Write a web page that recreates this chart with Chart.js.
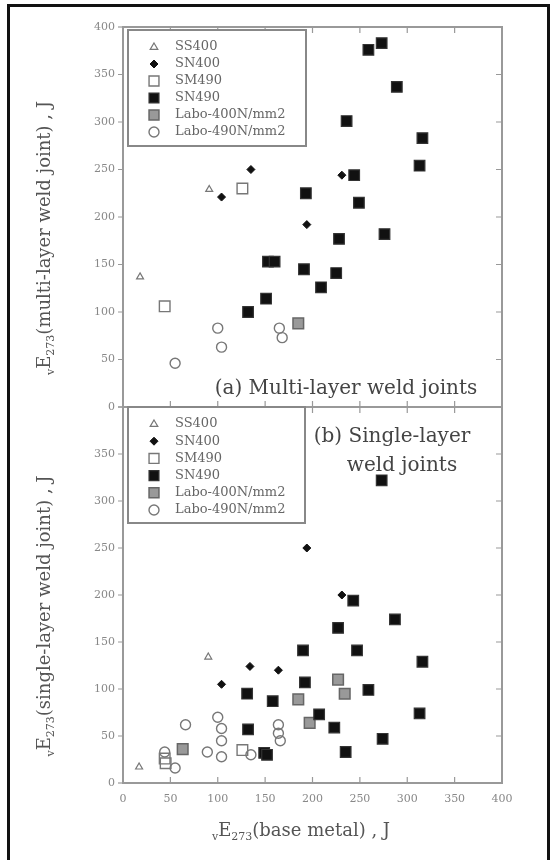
<!DOCTYPE html>
<html>
<head>
<meta charset="utf-8">
<script src="https://cdn.jsdelivr.net/npm/chart.js"></script>
<style>
  body { margin: 0; background: #fff; }
  #wrap { position: relative; width: 555px; height: 860px; overflow: hidden; }
  #wrap canvas { position: absolute; left: 0; top: 0; }
  #frame { position: absolute; left: 7px; top: 4px; width: 537px; height: 900px; border: 3px solid #111; }
</style>
</head>
<body>
<div id="wrap">
  <div id="frame"></div>
  <canvas id="chartTop" width="555" height="860"></canvas>
  <canvas id="chartBottom" width="555" height="860"></canvas>
</div>
<script>
// series names and axis ticks
const seriesNames = ['SS400', 'SN400', 'SM490', 'SN490', 'Labo-400N/mm2', 'Labo-490N/mm2'];
const tickValues = [0, 50, 100, 150, 200, 250, 300, 350, 400];

// (a) multi-layer weld joints: [base metal, weld joint]
const multiSS400 = [[18, 137], [91, 229]];
const multiSN400 = [[104, 221], [135, 250], [194, 192], [231, 244]];
const multiSM490 = [[44, 106], [126, 230]];
const multiSN490 = [[132, 100], [151, 114], [153, 153], [160, 153], [191, 145], [193, 225], [209, 126],
  [225, 141], [228, 177], [236, 301], [244, 244], [249, 215], [259, 376], [273, 383], [276, 182],
  [289, 337], [313, 254], [316, 283]];
const multiLabo400 = [[185, 88]];
const multiLabo490 = [[55, 46], [100, 83], [104, 63], [165, 83], [168, 73]];

// (b) single-layer weld joints
const singleSS400 = [[17, 17], [90, 134]];
const singleSN400 = [[104, 105], [134, 124], [164, 120], [194, 250], [231, 200]];
const singleSM490 = [[44, 26], [45, 21], [126, 35]];
const singleSN490 = [[131, 95], [132, 57], [149, 32], [152, 30], [158, 87], [190, 141], [192, 107],
  [207, 73], [223, 59], [227, 165], [235, 33], [243, 194], [247, 141], [259, 99], [274, 47],
  [273, 322], [287, 174], [313, 74], [316, 129]];
const singleLabo400 = [[63, 36], [185, 89], [197, 64], [227, 110], [234, 95]];
const singleLabo490 = [[44, 33], [55, 16], [66, 62], [89, 33], [100, 70], [104, 58], [104, 45],
  [104, 28], [135, 30], [164, 62], [164, 53], [166, 45]];

const serif = 'DejaVu Serif';

// marker look per series
const styles = [
  { pointStyle: 'triangle', radius: 4, bg: 'rgba(0,0,0,0)', border: '#777', bw: 1.2 },
  { pointStyle: 'rectRot', radius: 4, bg: '#111', border: '#111', bw: 1 },
  { pointStyle: 'rect', radius: 7.5, bg: 'rgba(0,0,0,0)', border: '#777', bw: 1.4 },
  { pointStyle: 'rect', radius: 7.5, bg: '#111', border: '#333', bw: 1.2 },
  { pointStyle: 'rect', radius: 7.5, bg: '#999', border: '#666', bw: 1.5 },
  { pointStyle: 'circle', radius: 5, bg: 'rgba(0,0,0,0)', border: '#777', bw: 1.4 }
];

function makeDatasets(groups) {
  return groups.map((pts, i) => ({
    label: seriesNames[i],
    data: pts.map(p => ({ x: p[0], y: p[1] })),
    pointStyle: styles[i].pointStyle,
    pointRadius: styles[i].radius,
    pointBackgroundColor: styles[i].bg,
    pointBorderColor: styles[i].border,
    pointBorderWidth: styles[i].bw,
    showLine: false,
    clip: false
  }));
}

function drawMarker(ctx, s, x, y, r) {
  ctx.save();
  ctx.fillStyle = s.bg;
  ctx.strokeStyle = s.border;
  ctx.lineWidth = s.bw;
  ctx.beginPath();
  if (s.pointStyle === 'triangle') {
    ctx.moveTo(x, y - r);
    ctx.lineTo(x + r * 0.95, y + r * 0.6);
    ctx.lineTo(x - r * 0.95, y + r * 0.6);
    ctx.closePath();
  } else if (s.pointStyle === 'rectRot') {
    ctx.moveTo(x, y - r); ctx.lineTo(x + r, y); ctx.lineTo(x, y + r); ctx.lineTo(x - r, y);
    ctx.closePath();
  } else if (s.pointStyle === 'rect') {
    const h = r * Math.SQRT1_2;
    ctx.rect(x - h, y - h, 2 * h, 2 * h);
  } else {
    ctx.arc(x, y, r, 0, Math.PI * 2);
  }
  ctx.fill();
  ctx.stroke();
  ctx.restore();
}

function drawTitle(ctx, parts, cx, cy, rotate) {
  ctx.save();
  ctx.translate(cx, cy);
  if (rotate) ctx.rotate(-Math.PI / 2);
  ctx.fillStyle = '#555';
  ctx.textBaseline = 'alphabetic';
  let total = 0;
  parts.forEach(p => {
    ctx.font = (p.sub ? 11 : 18) + 'px "' + serif + '"';
    total += ctx.measureText(p.t).width;
  });
  let x = -total / 2;
  parts.forEach(p => {
    ctx.font = (p.sub ? 11 : 18) + 'px "' + serif + '"';
    ctx.fillText(p.t, x, p.sub ? 10 : 6);
    x += ctx.measureText(p.t).width;
  });
  ctx.restore();
}

// frame, ticks, legend box, notes, titles
const decorPlugin = {
  id: 'decor',
  afterDraw(chart, args, o) {
    const ctx = chart.ctx;
    const xs = chart.scales.x, ys = chart.scales.y;
    const a = chart.chartArea;
    ctx.save();
    ctx.strokeStyle = '#999';
    ctx.lineWidth = 2;
    ctx.strokeRect(a.left, a.top, a.right - a.left, a.bottom - a.top);
    ctx.lineWidth = 1.2;
    tickValues.forEach(v => {
      const px = xs.getPixelForValue(v), py = ys.getPixelForValue(v);
      ctx.beginPath();
      if (v > 0 && v < 400) {
        ctx.moveTo(px, a.top); ctx.lineTo(px, a.top + 6);
        ctx.moveTo(px, a.bottom); ctx.lineTo(px, a.bottom - 6);
        ctx.moveTo(a.right, py); ctx.lineTo(a.right - 6, py);
      }
      ctx.moveTo(a.left, py); ctx.lineTo(a.left - 5, py);
      ctx.stroke();
    });
    // legend box
    const L = o.legend;
    ctx.fillStyle = '#fff';
    ctx.fillRect(L.x, L.y, L.w, L.h);
    ctx.strokeStyle = '#888';
    ctx.lineWidth = 2;
    ctx.strokeRect(L.x, L.y, L.w, L.h);
    ctx.font = '13px "' + serif + '"';
    ctx.textBaseline = 'middle';
    seriesNames.forEach((name, i) => {
      const y = L.first + i * L.step;
      const s = styles[i];
      drawMarker(ctx, s, 154, y, s.pointStyle === 'rect' ? 7 : s.radius);
      ctx.fillStyle = '#666';
      ctx.fillText(name, 175, y);
    });
    // panel note
    ctx.font = '20px "' + serif + '"';
    ctx.fillStyle = '#444';
    ctx.textAlign = 'center';
    o.notes.forEach(n => ctx.fillText(n.t, n.x, n.y));
    ctx.textAlign = 'left';
    drawTitle(ctx, o.yTitle, 44, o.yTitleY, true);
    if (o.xTitle) drawTitle(ctx, o.xTitle, 301, 830, false);
    ctx.restore();
  }
};

function makeChart(id, groups, cfg) {
  return new Chart(document.getElementById(id), {
    type: 'scatter',
    data: { datasets: makeDatasets(groups) },
    options: {
      responsive: false,
      animation: false,
      layout: { padding: { left: 0, right: 53, top: cfg.top, bottom: 0 } },
      plugins: { legend: { display: false }, tooltip: { enabled: false }, decor: cfg.decor },
      scales: {
        x: {
          type: 'linear', min: 0, max: 400,
          ticks: { stepSize: 50, display: cfg.xLabels, padding: 2, color: '#888', font: { family: serif, size: 11 } },
          grid: { display: false },
          border: { display: false },
          afterFit: s => { s.height = cfg.xHeight; }
        },
        y: {
          type: 'linear', min: 0, max: 400,
          ticks: {
            stepSize: 50, padding: 0, color: '#888', font: { family: serif, size: 11 },
            callback: v => (cfg.hideTop && v === 400) ? '' : v
          },
          grid: { display: false },
          border: { display: false },
          afterFit: s => { s.width = 123; }
        }
      }
    },
    plugins: [decorPlugin]
  });
}

makeChart('chartTop',
  [multiSS400, multiSN400, multiSM490, multiSN490, multiLabo400, multiLabo490],
  {
    top: 27, xHeight: 860 - 407, xLabels: false, hideTop: false,
    decor: {
      legend: { x: 128, y: 30, w: 178, h: 116, first: 47, step: 17 },
      notes: [{ t: '(a) Multi-layer weld joints', x: 346, y: 389 }],
      yTitle: [{ t: 'v', sub: true }, { t: 'E' }, { t: '273', sub: true }, { t: '(multi-layer weld joint) , J' }],
      yTitleY: 238
    }
  });

makeChart('chartBottom',
  [singleSS400, singleSN400, singleSM490, singleSN490, singleLabo400, singleLabo490],
  {
    top: 407, xHeight: 860 - 783, xLabels: true, hideTop: true,
    decor: {
      legend: { x: 128, y: 407, w: 177, h: 116, first: 424, step: 17.2 },
      notes: [{ t: '(b) Single-layer', x: 392, y: 437 }, { t: 'weld joints', x: 402, y: 466 }],
      yTitle: [{ t: 'v', sub: true }, { t: 'E' }, { t: '273', sub: true }, { t: '(single-layer weld joint) , J' }],
      yTitleY: 616,
      xTitle: [{ t: 'v', sub: true }, { t: 'E' }, { t: '273', sub: true }, { t: '(base metal) , J' }]
    }
  });
</script>
</body>
</html>
